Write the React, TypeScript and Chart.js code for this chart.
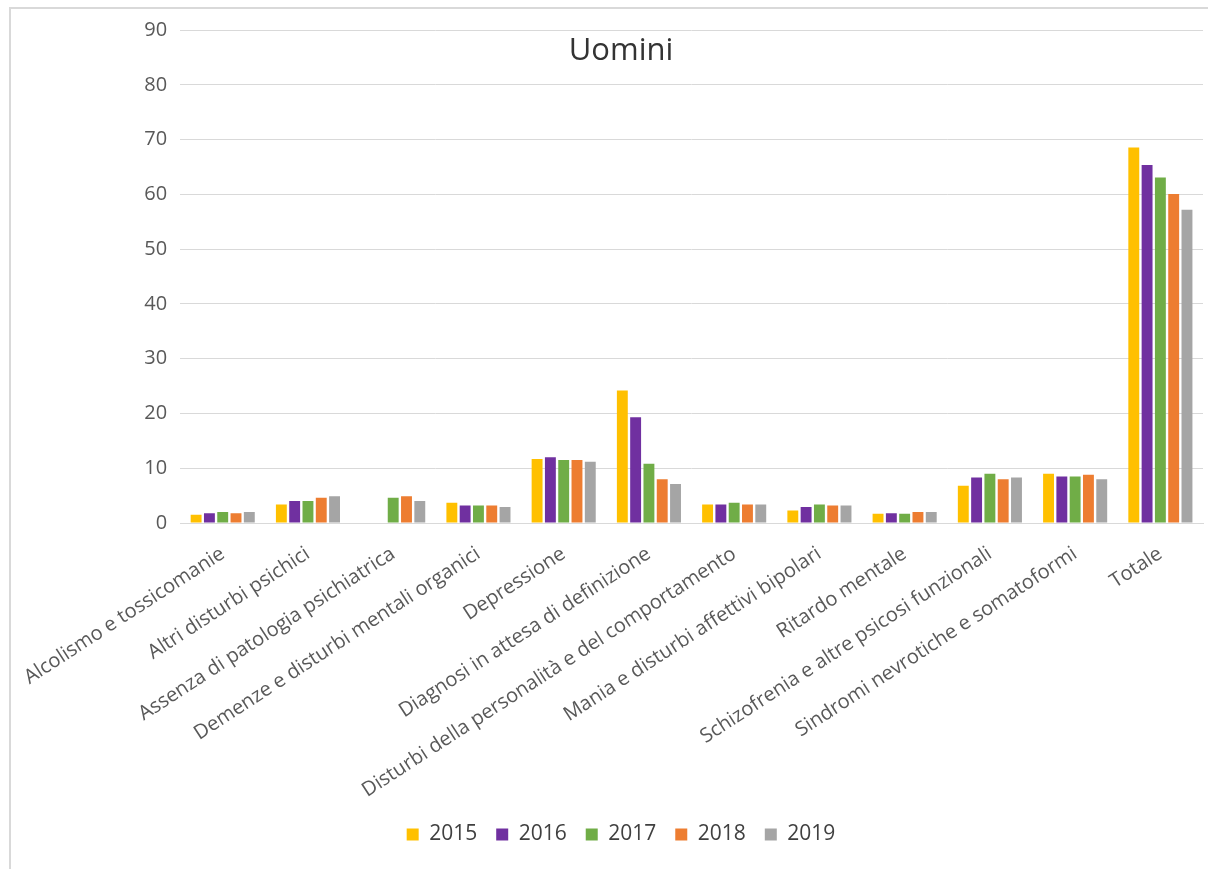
import React, { useEffect, useRef } from "react";
import { Chart, registerables } from "chart.js";

Chart.register(...registerables);

const categories: string[] = [
  "Alcolismo e tossicomanie",
  "Altri disturbi psichici",
  "Assenza di patologia psichiatrica",
  "Demenze e disturbi mentali organici",
  "Depressione",
  "Diagnosi in attesa di definizione",
  "Disturbi della personalità e del comportamento",
  "Mania e disturbi affettivi bipolari",
  "Ritardo mentale",
  "Schizofrenia e altre psicosi funzionali",
  "Sindromi nevrotiche e somatoformi",
  "Totale",
];

const years: string[] = ["2015", "2016", "2017", "2018", "2019"];

const v2015: (number | null)[] = [1.5, 3.4, null, 3.7, 11.7, 24.2, 3.4, 2.3, 1.7, 6.8, 9.0, 68.6];
const v2016: (number | null)[] = [1.8, 4.0, null, 3.2, 12.0, 19.3, 3.4, 2.9, 1.8, 8.3, 8.5, 65.4];
const v2017: (number | null)[] = [2.0, 4.0, 4.6, 3.2, 11.5, 10.8, 3.7, 3.4, 1.7, 9.0, 8.5, 63.1];
const v2018: (number | null)[] = [1.8, 4.6, 4.9, 3.2, 11.5, 8.0, 3.4, 3.2, 2.0, 8.0, 8.8, 60.1];
const v2019: (number | null)[] = [2.0, 4.9, 4.0, 2.9, 11.2, 7.1, 3.4, 3.2, 2.0, 8.3, 8.0, 57.2];

const seriesValues = [v2015, v2016, v2017, v2018, v2019];
const seriesColors: string[] = ["#FFC000", "#7030A0", "#70AD47", "#ED7D31", "#A5A5A5"];

const yMin = 0;
const yMax = 90;
const yStep = 10;

const FONT = "'Open Sans', 'Noto Sans', sans-serif";

export default function App() {
  const canvasRef = useRef<HTMLCanvasElement | null>(null);

  useEffect(() => {
    if (!canvasRef.current) return;
    const chart = new Chart(canvasRef.current, {
      type: "bar",
      data: {
        labels: categories,
        datasets: years.map((y, i) => ({
          label: y,
          data: seriesValues[i],
          backgroundColor: seriesColors[i],
          borderWidth: 0,
          categoryPercentage: 0.78,
          barPercentage: 0.82,
        })),
      },
      options: {
        responsive: false,
        animation: false,
        layout: { padding: { left: 39, right: 5, top: 0, bottom: 14 } },
        plugins: {
          title: {
            display: true,
            text: "Uomini",
            color: "#333333",
            font: { family: FONT, size: 31, weight: "normal" },
            padding: { top: 33, bottom: -40 },
          },
          legend: {
            display: true,
            position: "bottom",
            labels: {
              color: "#404040",
              font: { family: FONT, size: 21 },
              boxWidth: 12,
              boxHeight: 12,
              padding: 19,
            },
          },
          tooltip: { enabled: false },
        },
        scales: {
          x: {
            grid: { display: false, drawTicks: false },
            border: { display: true, color: "#d9d9d9", width: 1 },
            ticks: {
              color: "#595959",
              font: { family: FONT, size: 20 },
              autoSkip: false,
              minRotation: 33,
              maxRotation: 33,
              padding: 19,
            },
            afterFit: (scale: any) => {
              scale.height = 282;
            },
          },
          y: {
            min: yMin,
            max: yMax,
            grid: { color: "#d9d9d9", drawTicks: false },
            border: { display: false },
            ticks: {
              stepSize: yStep,
              color: "#595959",
              font: { family: FONT, size: 20 },
              padding: 13,
            },
            afterFit: (scale: any) => {
              scale.width = 137;
            },
          },
        },
      },
    });
    return () => chart.destroy();
  }, []);

  return (
    <div style={{ position: "absolute", left: 0, top: 0, width: 1208, height: 869, background: "#fff", overflow: "hidden" }}>
      <div
        style={{
          position: "absolute",
          left: 9,
          top: 7,
          width: 1199,
          height: 862,
          borderLeft: "2px solid #d9d9d9",
          borderTop: "2px solid #d9d9d9",
          boxSizing: "border-box",
        }}
      />
      <canvas
        ref={canvasRef}
        width={1208}
        height={869}
        style={{ position: "absolute", left: 0, top: 0, width: 1208, height: 869 }}
      />
    </div>
  );
}
